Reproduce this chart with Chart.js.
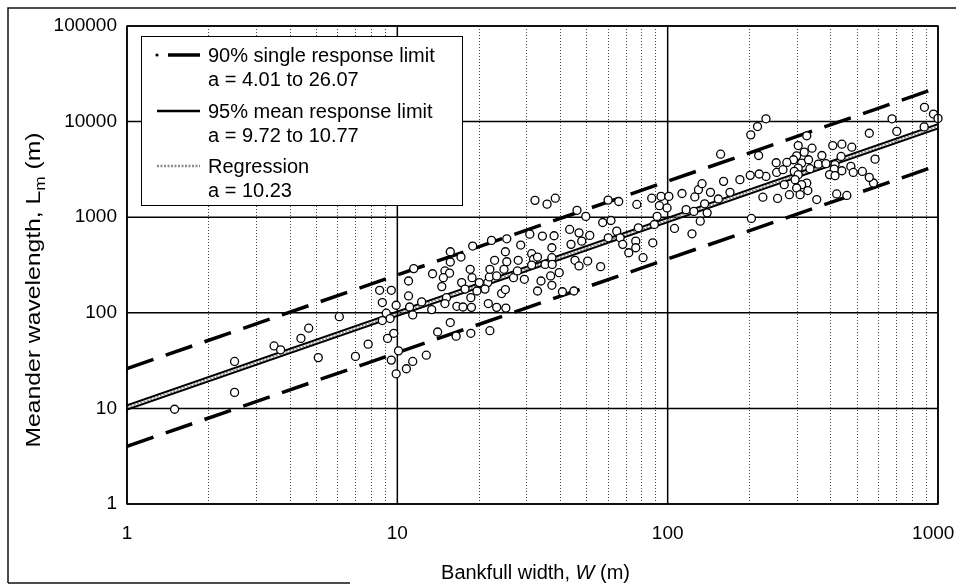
<!DOCTYPE html>
<html>
<head>
<meta charset="utf-8">
<script src="https://cdn.jsdelivr.net/npm/chart.js@4/dist/chart.umd.min.js"></script>
<style>
  html, body { margin: 0; padding: 0; background: #fff; }
  #wrap { width: 956px; height: 587px; position: relative; }
</style>
</head>
<body>
<div id="wrap"><canvas id="c" width="956" height="587"></canvas></div>
<script>
// Axis ticks (log decades)
const xTicks = [1, 10, 100, 1000];
const yTicks = [1, 10, 100, 1000, 10000, 100000];

// Fitted lines L = a W^b, given at W = 1 and W = 1000
const fitW = [1, 1000];
const single90Low = [4.01, 3490];
const single90High = [26.07, 22700];
const mean95Low = [9.72, 8470];
const mean95High = [10.77, 9380];
const regression = [10.23, 8910];

// Observed rivers: bankfull width W (m) and meander wavelength Lm (m)
const widthW = [
  1.5, 2.5, 2.5, 3.5, 3.7, 4.4, 4.7, 5.1, 6.1, 7.0, 7.8, 8.6, 9.5, 8.8, 9.1, 9.4, 8.8, 9.2, 9.7, 9.5,
  9.9, 10.1, 9.9, 11, 11.5, 11, 11.1, 11.4, 11.4, 10.8, 12.8, 12.3, 13.5, 15, 15.6, 14.8, 14.6, 13.4, 15.2, 15,
  16.6, 17.5, 18.8, 18.7, 17.3, 18.6, 18.9, 20.1, 21.6, 21.1, 17.8, 19.7, 21.7, 23.3, 25.2, 24.3, 25.1, 21.9, 22, 22.9,
  25.1, 25.4, 24.8, 23.3, 26.9, 27.8, 28, 29.5, 31.4, 31.9, 31.4, 33, 35.2, 37.3, 37.3, 37.4, 39.7, 36.9, 37.3, 34,
  33, 40.8, 45, 43.9, 48.1, 45.4, 47, 50.6, 56.5, 64.8, 66.7, 60.3, 68.2, 71.8, 76.2, 76.2, 77.9, 81.1, 88.1, 89.3,
  106, 123, 117, 125, 91.4, 57.5, 61.7, 43.4, 47, 51.5, 34.4, 38, 30.9, 28.6, 22.3, 25.4, 19, 15.7, 17.2, 15.7,
  32.3, 35.8, 38.4, 46.2, 49.8, 60.2, 65.9, 76.9, 87.3, 94.5, 101, 93.2, 99.5, 113, 126, 130, 14.1, 15.7, 16.5, 18.7,
  22, 891, 962, 1000, 889, 676, 704, 557, 585, 577, 557, 525, 480, 441, 408, 438, 416, 476, 486, 441,
  413, 397, 416, 372, 361, 385, 342, 327, 304, 320, 300, 292, 313, 332, 336, 304, 276, 252, 253, 267,
  294, 304, 296, 327, 313, 330, 300, 309, 282, 270, 255, 225, 231, 218, 202, 185, 161, 170, 154, 144,
  134, 137, 140, 132, 204, 157, 203, 215, 231, 217, 356, 422, 460
];
const wavelengthL = [
  9.8, 14.7, 31, 45, 41, 54, 69, 34, 91, 35, 47, 172, 172, 128, 99, 87, 83, 54, 61, 32,
  23, 40, 120, 215, 290, 150, 115, 95, 31, 26, 36, 130, 256, 274, 260, 233, 188, 108, 144, 125,
  117, 115, 114, 144, 207, 285, 233, 207, 207, 177, 177, 169, 125, 114, 112, 159, 175, 237, 285, 354,
  435, 342, 285, 243, 233, 274, 354, 224, 415, 363, 316, 383, 321, 377, 479, 321, 263, 243, 194, 215,
  169, 166, 169, 520, 562, 354, 309, 348, 304, 715, 609, 609, 520, 425, 562, 479, 774, 377, 540, 839,
  763, 670, 1200, 1150, 1020, 880, 924, 745, 686, 645, 634, 640, 665, 511, 572, 594, 499, 435, 383, 340,
  1500, 1370, 1580, 1180, 1020, 1510, 1460, 1360, 1580, 1650, 1650, 1320, 1250, 1770, 1630, 1940, 63, 79, 57, 61,
  65, 14100, 12000, 10800, 8800, 10700, 7900, 7550, 4050, 2280, 2610, 3010, 5400, 5800, 5620, 4320, 3540, 3400, 2940, 3060,
  3190, 2790, 2720, 4420, 3590, 3630, 5270, 7100, 5620, 4790, 4390, 3990, 3680, 3990, 3215, 3265, 3740, 3710, 2940, 3140,
  3015, 2785, 2470, 2276, 2190, 1900, 2020, 1720, 1720, 2190, 1570, 1620, 2670, 2830, 2740, 2470, 2370, 1820, 1550, 1820,
  2240, 1380, 1110, 908, 970, 4560, 7270, 8870, 10700, 4420, 1530, 1750, 1690
];

const FONT = '"Liberation Sans", Arial, Helvetica, sans-serif';
const pts = widthW.map((w, i) => ({ x: w, y: wavelengthL[i] }));
const linePts = arr => fitW.map((w, i) => ({ x: w, y: arr[i] }));

const dashedStyle = { borderColor: '#000', borderWidth: 3.5, borderDash: [28, 13] };
const solidStyle = { borderColor: '#000', borderWidth: 2.1, borderDash: [] };
const regStyle = { borderColor: '#8a8a8a', borderWidth: 1.6, borderDash: [2, 1.5] };

function lineSet(label, arr, style, order) {
  return Object.assign({
    label, data: linePts(arr), showLine: true, pointRadius: 0, fill: false,
    tension: 0, order
  }, style);
}

const decor = {
  id: 'decor',
  beforeDatasetsDraw(chart) {
    const { ctx, chartArea: a, scales: { x, y } } = chart;
    ctx.save();
    // minor vertical grid
    ctx.strokeStyle = '#444';
    ctx.lineWidth = 1;
    ctx.setLineDash([1, 2]);
    for (let d = xTicks[0]; d < xTicks[xTicks.length - 1]; d *= 10) {
      for (let k = 2; k <= 9; k++) {
        const px = Math.round(x.getPixelForValue(d * k)) + 0.5;
        ctx.beginPath(); ctx.moveTo(px, a.top); ctx.lineTo(px, a.bottom); ctx.stroke();
      }
    }
    // decade grid
    ctx.setLineDash([]);
    ctx.strokeStyle = '#000';
    ctx.lineWidth = 1.5;
    xTicks.forEach(v => {
      const px = x.getPixelForValue(v);
      ctx.beginPath(); ctx.moveTo(px, a.top); ctx.lineTo(px, a.bottom); ctx.stroke();
    });
    yTicks.forEach(v => {
      const py = y.getPixelForValue(v);
      ctx.beginPath(); ctx.moveTo(a.left, py); ctx.lineTo(a.right, py); ctx.stroke();
    });
    ctx.restore();
  },
  afterDraw(chart) {
    const { ctx, chartArea: a } = chart;
    ctx.save();
    // plot border
    ctx.strokeStyle = '#000';
    ctx.lineWidth = 1.5;
    ctx.strokeRect(a.left, a.top, a.right - a.left, a.bottom - a.top);

    // legend box
    const lx = a.left + 14, ly = a.top + 10, lw = 321, lh = 169;
    ctx.fillStyle = '#fff';
    ctx.fillRect(lx, ly, lw, lh);
    ctx.lineWidth = 1;
    ctx.strokeRect(lx + 0.5, ly + 0.5, lw, lh);

    const entries = [
      { name: '90% single response limit', coef: `a = ${single90Low[0].toFixed(2)} to ${single90High[0].toFixed(2)}`, style: dashedStyle, dot: true },
      { name: '95% mean response limit', coef: `a = ${mean95Low[0].toFixed(2)} to ${mean95High[0].toFixed(2)}`, style: solidStyle },
      { name: 'Regression', coef: `a = ${regression[0].toFixed(2)}`, style: regStyle }
    ];
    const rowTop = [ly + 26, ly + 82, ly + 137];
    ctx.font = '20px ' + FONT;
    ctx.textBaseline = 'alphabetic';
    ctx.textAlign = 'left';
    entries.forEach((e, i) => {
      const base = rowTop[i];
      const sy = base - 7;
      ctx.save();
      ctx.strokeStyle = e.style.borderColor;
      ctx.lineWidth = e.dot ? e.style.borderWidth : Math.max(e.style.borderWidth, 2.5);
      if (e.dot) {
        ctx.fillStyle = '#000';
        ctx.beginPath(); ctx.arc(lx + 16, sy, 1.6, 0, Math.PI * 2); ctx.fill();
        ctx.beginPath(); ctx.moveTo(lx + 27, sy); ctx.lineTo(lx + 59, sy); ctx.stroke();
      } else {
        ctx.setLineDash(e.style.borderDash);
        ctx.beginPath(); ctx.moveTo(lx + 16, sy); ctx.lineTo(lx + 59, sy); ctx.stroke();
      }
      ctx.restore();
      ctx.fillStyle = '#000';
      ctx.fillText(e.name, lx + 67, base);
      ctx.fillText(e.coef, lx + 67, base + 24);
    });

    // x-axis title with italic W
    const xt = ['Bankfull width, ', 'W', ' (m)'];
    const fN = '20px ' + FONT, fI = 'italic 20px ' + FONT;
    ctx.font = fN; const w1 = ctx.measureText(xt[0]).width, w3 = ctx.measureText(xt[2]).width;
    ctx.font = fI; const w2 = ctx.measureText(xt[1]).width;
    const cx = (a.left + a.right) / 2 + 3;
    let tx = cx - (w1 + w2 + w3) / 2;
    const tyB = 579;
    ctx.font = fN; ctx.fillText(xt[0], tx, tyB); tx += w1;
    ctx.font = fI; ctx.fillText(xt[1], tx, tyB); tx += w2;
    ctx.font = fN; ctx.fillText(xt[2], tx, tyB);

    // y-axis title with subscript m
    ctx.save();
    ctx.translate(40, 290);
    ctx.rotate(-Math.PI / 2);
    const p1 = 'Meander wavelength, L', p2 = 'm', p3 = ' (m)';
    ctx.font = fN; const v1 = ctx.measureText(p1).width, v3 = ctx.measureText(p3).width;
    ctx.font = '14px ' + FONT; const v2 = ctx.measureText(p2).width;
    const total = v1 + v2 + v3;
    const stretch = 315 / total;
    ctx.scale(stretch, 1);
    let ty = -total / 2;
    ctx.font = fN; ctx.fillText(p1, ty, 0); ty += v1;
    ctx.font = '14px ' + FONT; ctx.fillText(p2, ty, 5); ty += v2;
    ctx.font = fN; ctx.fillText(p3, ty, 0);
    ctx.restore();

    // outer frame
    ctx.strokeStyle = '#111';
    ctx.lineWidth = 1.5;
    ctx.beginPath();
    ctx.moveTo(8, 583); ctx.lineTo(8, 8); ctx.lineTo(956, 8);
    ctx.stroke();
    ctx.beginPath(); ctx.moveTo(8, 583); ctx.lineTo(350, 583); ctx.stroke();
    ctx.restore();
  }
};

new Chart(document.getElementById('c'), {
  type: 'scatter',
  data: {
    datasets: [
      {
        label: 'Rivers', data: pts, order: 0, clip: false,
        pointRadius: 4, pointHoverRadius: 4, pointBorderWidth: 1.3,
        pointBackgroundColor: '#fff', pointBorderColor: '#000', showLine: false
      },
      lineSet('Regression', regression, regStyle, 1),
      lineSet('95% mean response lower', mean95Low, solidStyle, 2),
      lineSet('95% mean response upper', mean95High, solidStyle, 3),
      lineSet('90% single response lower', single90Low, dashedStyle, 4),
      lineSet('90% single response upper', single90High, dashedStyle, 5)
    ]
  },
  options: {
    responsive: false,
    animation: false,
    devicePixelRatio: 1,
    layout: { padding: { top: 26, right: 18, left: 0, bottom: 0 } },
    plugins: { legend: { display: false }, tooltip: { enabled: false } },
    scales: {
      x: {
        type: 'logarithmic', min: 1, max: 1000,
        afterBuildTicks: s => { s.ticks = xTicks.map(v => ({ value: v })); },
        afterFit: s => { s.height = 83; s.paddingLeft = 0; s.paddingRight = 0; },
        // the last label sits a little inside the right edge
        ticks: {
          callback: v => v === xTicks[xTicks.length - 1] ? String(v) + '\u2002' : String(v),
          color: '#000', font: { family: FONT, size: 19 }, padding: 18, maxRotation: 0, autoSkip: false
        },
        grid: { display: false, drawTicks: false },
        border: { display: false }
      },
      y: {
        type: 'logarithmic', min: 1, max: 100000,
        afterBuildTicks: s => { s.ticks = yTicks.map(v => ({ value: v })); },
        afterFit: s => { s.width = 127; s.paddingTop = 0; s.paddingBottom = 0; },
        ticks: { callback: v => String(v), color: '#000', font: { family: FONT, size: 19 }, padding: 10, autoSkip: false },
        grid: { display: false, drawTicks: false },
        border: { display: false }
      }
    }
  },
  plugins: [decor]
});
</script>
</body>
</html>
